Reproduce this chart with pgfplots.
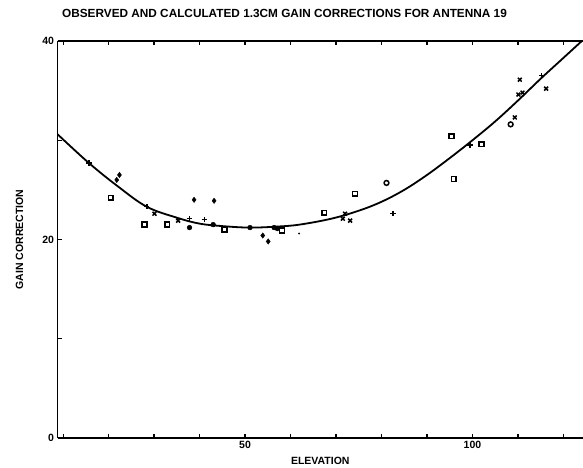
\documentclass[border=0pt]{standalone}
\usepackage{pgfplots}
\pgfplotsset{compat=1.18}
\usepackage{fontspec}
\setmainfont{Liberation Sans}
\begin{document}
\begin{tikzpicture}
\begin{axis}[
  scale only axis, width=525.4pt, height=397pt,
  xmin=8.8, xmax=124.3, ymin=0, ymax=40,
  axis x line*=box, axis y line*=left,
  axis line style={line width=1.5pt},
  xtick={10,20,...,120}, xticklabels={,,,,50,,,,,100,,},
  ytick={0,10,20,30,40}, yticklabels={0,,20,,40},
  tick align=inside, major tick length=4pt,
  tick style={line width=1.1pt, black},
  font=\fontsize{10.5}{12}\selectfont\bfseries,
  ticklabel style={font=\fontsize{10.5}{12}\selectfont\bfseries},
  xlabel={ELEVATION}, ylabel={GAIN CORRECTION},
  every axis x label/.style={at={(axis description cs:0.5,0)}, anchor=center, yshift=-23pt, font=\fontsize{10.5}{12}\selectfont\bfseries},
  every axis y label/.style={at={(axis description cs:-0.0723,0.5)}, anchor=center, rotate=90, font=\fontsize{10.5}{12}\selectfont\bfseries},
  title={OBSERVED AND CALCULATED 1.3CM GAIN CORRECTIONS FOR ANTENNA 19},
  title style={at={(axis description cs:0,1)}, anchor=west, xshift=1pt, yshift=22pt, font=\fontsize{11.8}{13}\selectfont\bfseries},
  clip=true,
]
% calculated curve
\addplot[black, line width=1.8pt, smooth, tension=0.6] coordinates {
 (8.8,30.6) (15.7,27.7) (22.2,25.3) (28.4,23.3) (35,22.2) (40,21.6) (45,21.35)
 (51,21.2) (57,21.3) (62,21.5) (69,22.1) (75,22.9) (80,23.8) (85,25.0)
 (90,26.5) (95,28.2) (100,30.0) (105,31.9) (110,34.0) (115,36.2) (120,38.3) (125,40.4)
};
% open squares
\addplot[only marks, mark=square, mark size=2.4pt, line width=1.5pt, black] coordinates {
 (20.5,24.2) (27.9,21.5) (32.9,21.5) (45.5,21.0) (58.1,20.9) (67.4,22.7)
 (74.2,24.6) (95.9,26.1) (102.0,29.6) (95.4,30.4)
};
% filled circles
\addplot[only marks, mark=*, mark size=2.4pt, black] coordinates {
 (37.8,21.2) (43.0,21.5) (51.1,21.2) (56.4,21.2) (57.1,21.1)
};
% open circles
\addplot[only marks, mark=o, mark size=2.4pt, line width=1.5pt, black] coordinates {
 (81.1,25.7) (108.4,31.6)
};
% plus
\addplot[only marks, mark=+, mark size=2.7pt, line width=1.5pt, black] coordinates {
 (15.7,27.7) (28.4,23.3) (41.1,22.0) (37.8,22.1) (82.5,22.6) (115.2,36.5) (99.5,29.5)
};
% diamonds
\addplot[only marks, mark=diamond*, mark size=2.7pt, black] coordinates {
 (38.8,24.0) (43.2,23.9) (53.9,20.4) (55.1,19.8) (21.8,26.0) (22.4,26.5)
};
% crosses
\addplot[only marks, mark=x, mark size=2.7pt, line width=1.5pt, black] coordinates {
 (30.1,22.6) (35.3,21.9) (72.0,22.6) (71.5,22.1) (73.1,21.9) (109.3,32.3)
 (110.4,36.1) (110.1,34.6) (111.0,34.8) (116.2,35.2)
};
% tiny dot
\addplot[only marks, mark=*, mark size=0.7pt, black] coordinates {(61.9,20.6)};
\end{axis}
\pgfresetboundingbox
\path ([xshift=-57.6pt,yshift=-30pt]current axis.south west) rectangle ([yshift=41pt]current axis.north east);
\end{tikzpicture}
\end{document}
